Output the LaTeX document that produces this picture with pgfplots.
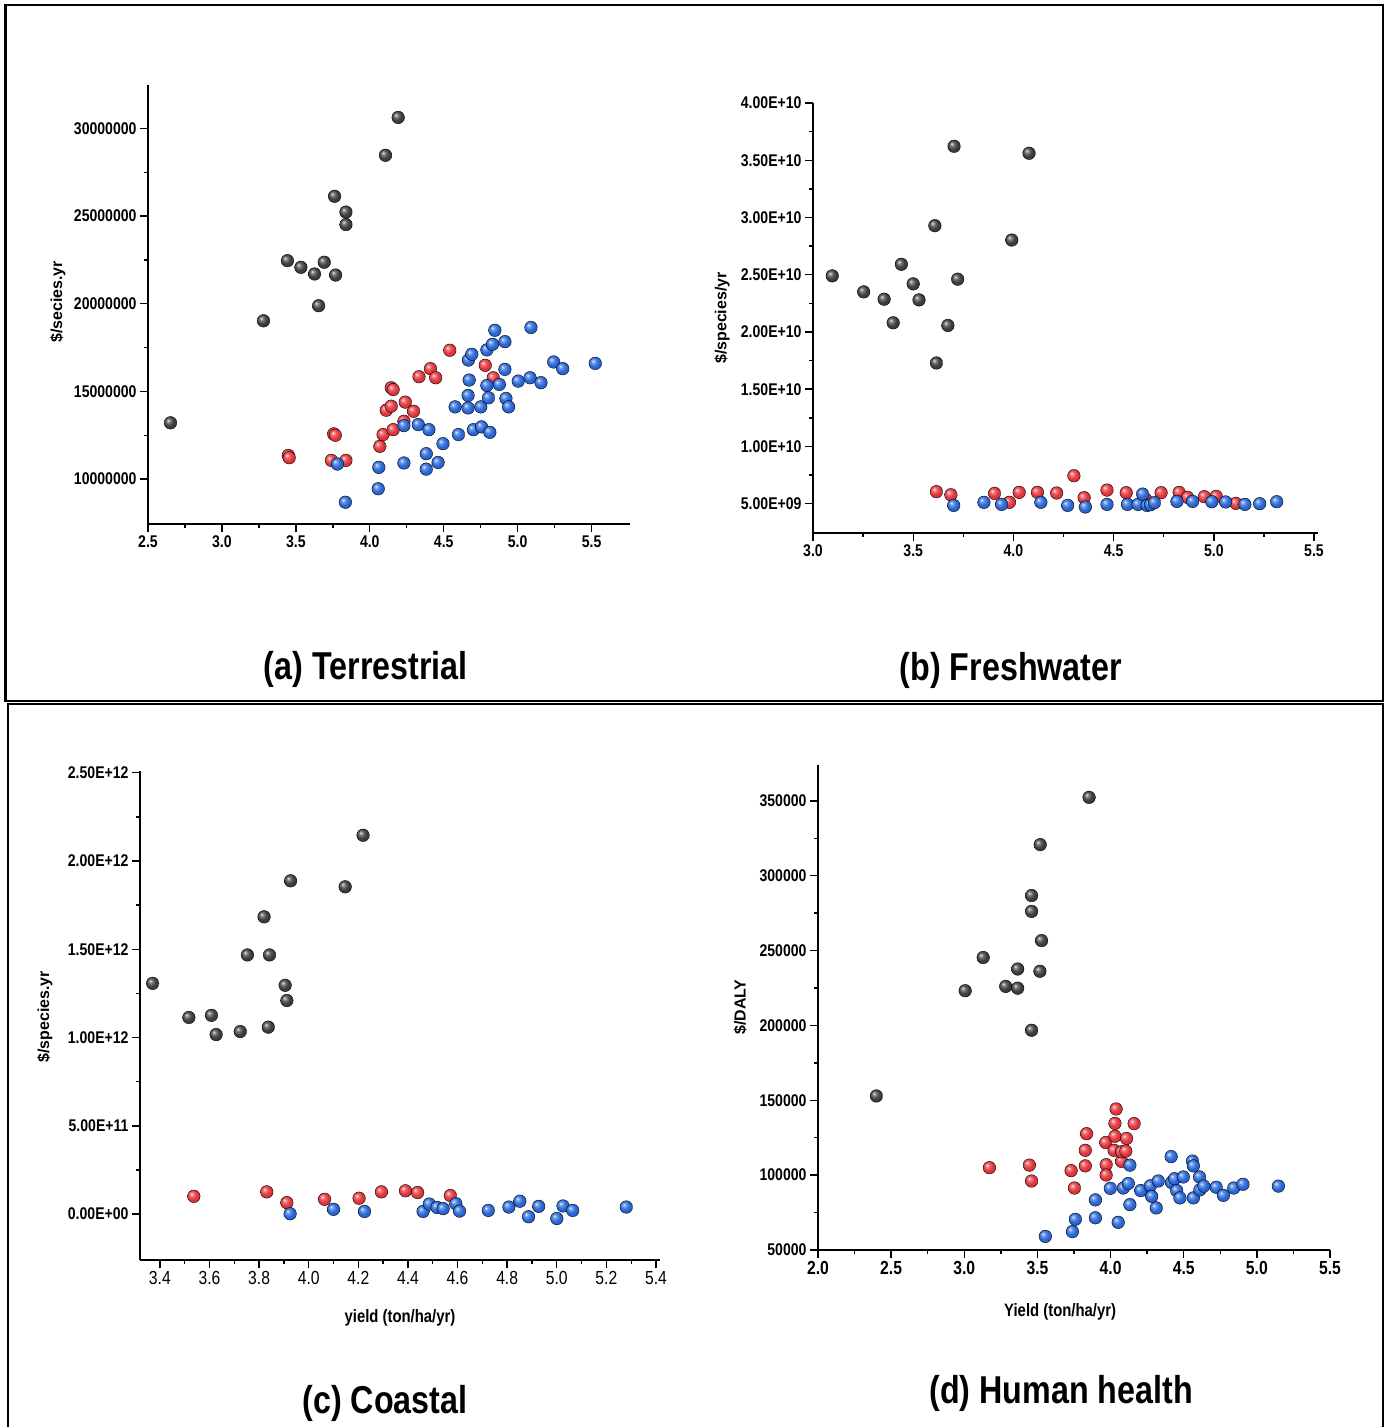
\documentclass[border=0pt]{standalone}
\usepackage{pgfplots}
\pgfplotsset{compat=1.18}
\usepackage{fontspec}
\setmainfont[FakeStretch=0.83]{Liberation Sans}
\newfontfamily\ylfont{Liberation Sans}
\definecolor{ballk}{HTML}{3E3E3E}
\definecolor{ballr}{HTML}{E4363C}
\definecolor{ballb}{HTML}{2A68D8}
\makeatletter
\pgfdeclareradialshading[tikz@ball]{ball}{\pgfqpoint{-10bp}{10bp}}{%
 color(0bp)=(tikz@ball!10!white); color(7bp)=(tikz@ball!65!white);
 color(18bp)=(tikz@ball); color(34bp)=(tikz@ball!88!black); color(50bp)=(tikz@ball!62!black)}
\makeatother
\pgfplotsset{
  panel/.style={
    scale only axis, anchor=south west, clip=false,
    axis lines=left, axis line style={-, line width=1.6bp},
    tick align=outside, tick pos=left,
    major tick length=8bp, minor tick length=4bp,
    every tick/.style={line width=1.4bp, black},
    minor tick num=1,
    ticklabel style={font=\fontsize{17}{17}\selectfont\bfseries},
    title style={anchor=center, font=\fontsize{39}{39}\selectfont\bfseries},
    ylabel style={anchor=center, font={\ylfont\bfseries\fontsize{16}{16}\selectfont}},
    xlabel style={anchor=center, font=\fontsize{18}{18}\selectfont\bfseries},
    scaled ticks=false,
  },
  kball/.style={only marks, mark=ball, mark size=6.3bp, mark options={ball color=ballk, draw=none}},
  rball/.style={only marks, mark=ball, mark size=6.3bp, mark options={ball color=ballr, draw=none}},
  bball/.style={only marks, mark=ball, mark size=6.3bp, mark options={ball color=ballb, draw=none}},
}
\begin{document}
\begin{tikzpicture}
\useasboundingbox (0,0) rectangle (1391bp,1427bp);
\draw[line width=2.7bp] (5.5bp,1422bp) rectangle (1383bp,726bp);
\draw[line width=2.7bp] (8bp,723bp) rectangle (1383bp,-20bp);

% (a) Terrestrial
\begin{axis}[panel, at={(148bp,903bp)}, width=482bp, height=439bp,
  xmin=2.5, xmax=5.76, ymin=7.44e6, ymax=32.48e6,
  xtick={2.5,3.0,3.5,4.0,4.5,5.0,5.5},
  xticklabels={2.5,3.0,3.5,4.0,4.5,5.0,5.5},
  ytick={10e6,15e6,20e6,25e6,30e6},
  yticklabels={10000000,15000000,20000000,25000000,30000000},
  ylabel={\$/secies.yr},
  ylabel style={at={(axis description cs:-0.187,0.506)}},
  title={(a) Terrestrial},
  title style={at={(axis description cs:0.452,-0.344)}}]
\addplot[kball] coordinates {
(2.652,13.21e6) (3.281,19.03e6) (3.443,22.46e6) (3.534,22.08e6) (3.627,21.70e6)
(3.692,22.37e6) (3.769,21.64e6) (3.654,19.89e6) (3.762,26.13e6) (3.839,25.23e6)
(3.839,24.52e6) (4.106,28.47e6) (4.192,30.63e6)};
\addplot[rball] coordinates {
(3.449,11.35e6) (3.455,11.22e6) (3.756,12.58e6) (3.767,12.50e6) (3.740,11.07e6)
(3.839,11.07e6) (4.068,11.87e6) (4.090,12.54e6) (4.111,13.93e6) (4.145,14.16e6)
(4.145,15.21e6) (4.158,15.11e6) (4.158,12.82e6) (4.231,13.30e6) (4.240,14.39e6)
(4.296,13.87e6) (4.333,15.84e6) (4.410,16.30e6) (4.446,15.78e6) (4.541,17.35e6)
(4.781,16.49e6) (4.835,15.78e6)};
\addplot[bball] coordinates {
(3.781,10.86e6) (3.835,8.68e6) (4.061,10.67e6) (4.057,9.45e6) (4.231,13.05e6)
(4.231,10.92e6) (4.328,13.11e6) (4.400,12.82e6) (4.382,11.45e6) (4.382,10.57e6)
(4.462,10.95e6) (4.495,12.02e6) (4.577,14.12e6) (4.600,12.54e6) (4.665,14.77e6)
(4.665,14.06e6) (4.672,15.65e6) (4.667,16.79e6) (4.690,17.12e6) (4.701,12.82e6)
(4.756,12.98e6) (4.751,14.12e6) (4.792,15.34e6) (4.803,14.64e6) (4.812,12.67e6)
(4.792,17.37e6) (4.830,17.69e6) (4.846,18.49e6) (4.876,15.40e6) (4.914,17.84e6)
(4.914,16.26e6) (4.921,14.60e6) (4.939,14.12e6) (5.004,15.59e6) (5.084,15.78e6)
(5.090,18.65e6) (5.158,15.50e6) (5.244,16.68e6) (5.305,16.30e6) (5.525,16.60e6)};
\end{axis}

% (b) Freshwater
\begin{axis}[panel, at={(813bp,894bp)}, width=505bp, height=430bp,
  xmin=3.0, xmax=5.52, ymin=2.44e9, ymax=4.0e10,
  xtick={3.0,3.5,4.0,4.5,5.0,5.5},
  xticklabels={3.0,3.5,4.0,4.5,5.0,5.5},
  ytick={5e9,10e9,15e9,20e9,25e9,30e9,35e9,40e9},
  yticklabels={5.00E+09,1.00E+10,1.50E+10,2.00E+10,2.50E+10,3.00E+10,3.50E+10,4.00E+10},
  ylabel={\$/species/yr},
  ylabel style={at={(axis description cs:-0.180,0.5)}},
  title={(b) Freshwater},
  title style={at={(axis description cs:0.392,-0.333)}}]
\addplot[kball] coordinates {
(3.096,24.90e9) (3.253,23.50e9) (3.355,22.86e9) (3.400,20.80e9) (3.441,25.91e9)
(3.500,24.20e9) (3.529,22.80e9) (3.608,29.28e9) (3.616,17.29e9) (3.673,20.57e9)
(3.704,36.22e9) (3.722,24.61e9) (3.992,28.03e9) (4.078,35.61e9)};
\addplot[rball] coordinates {
(3.616,6.05e9) (3.688,5.78e9) (3.906,5.90e9) (3.980,5.12e9) (4.029,5.99e9)
(4.120,5.99e9) (4.216,5.93e9) (4.302,7.44e9) (4.353,5.52e9) (4.467,6.19e9)
(4.563,5.96e9) (4.659,5.41e9) (4.737,5.96e9) (4.827,5.99e9) (4.869,5.55e9)
(4.953,5.61e9) (5.012,5.64e9) (5.110,5.03e9)};
\addplot[bball] coordinates {
(3.702,4.85e9) (3.853,5.12e9) (3.941,4.94e9) (4.137,5.12e9) (4.271,4.85e9)
(4.359,4.71e9) (4.467,4.94e9) (4.569,4.94e9) (4.622,4.94e9) (4.645,5.84e9)
(4.667,4.85e9) (4.684,4.91e9) (4.704,5.09e9) (4.816,5.20e9) (4.894,5.20e9)
(4.990,5.17e9) (5.059,5.15e9) (5.155,4.94e9) (5.229,5.00e9) (5.314,5.17e9)};
\end{axis}

% (c) Coastal
\begin{axis}[panel, at={(140bp,167bp)}, width=520bp, height=489bp,
  xmin=3.32, xmax=5.416, ymin=-0.26e12, ymax=2.51e12,
  xtick={3.4,3.6,3.8,4.0,4.2,4.4,4.6,4.8,5.0,5.2,5.4},
  xticklabels={3.4,3.6,3.8,4.0,4.2,4.4,4.6,4.8,5.0,5.2,5.4},
  ytick={0,0.5e12,1.0e12,1.5e12,2.0e12,2.5e12},
  yticklabels={0.00E+00,5.00E+11,1.00E+12,1.50E+12,2.00E+12,2.50E+12},
  xticklabel style={font=\fontsize{19}{19}\selectfont},
  ylabel={\$/species.yr},
  ylabel style={at={(axis description cs:-0.183,0.497)}},
  xlabel={yield (ton/ha/yr)},
  xlabel style={at={(axis description cs:0.5,-0.119)}},
  title={(c) Coastal},
  title style={at={(axis description cs:0.471,-0.305)}}]
\addplot[kball] coordinates {
(3.371,1.307e12) (3.517,1.114e12) (3.608,1.126e12) (3.627,1.017e12) (3.724,1.034e12)
(3.753,1.468e12) (3.820,1.684e12) (3.837,1.059e12) (3.842,1.468e12) (3.905,1.296e12)
(3.912,1.210e12) (3.927,1.888e12) (4.147,1.854e12) (4.219,2.146e12)};
\addplot[rball] coordinates {
(3.537,0.101e12) (3.831,0.126e12) (3.912,0.065e12) (4.064,0.084e12) (4.203,0.090e12)
(4.293,0.126e12) (4.390,0.132e12) (4.439,0.122e12) (4.571,0.105e12)};
\addplot[bball] coordinates {
(3.925,0.002e12) (4.100,0.027e12) (4.225,0.015e12) (4.461,0.015e12) (4.486,0.057e12)
(4.517,0.038e12) (4.542,0.031e12) (4.593,0.059e12) (4.608,0.017e12) (4.724,0.021e12)
(4.807,0.040e12) (4.851,0.073e12) (4.886,-0.015e12) (4.927,0.044e12) (5.000,-0.025e12)
(5.025,0.046e12) (5.064,0.021e12) (5.280,0.040e12)};
\end{axis}

% (d) Human health
\begin{axis}[panel, at={(818bp,177bp)}, width=512bp, height=485bp,
  xmin=2.0, xmax=5.5, ymin=50000, ymax=374000,
  xtick={2.0,2.5,3.0,3.5,4.0,4.5,5.0,5.5},
  xticklabels={2.0,2.5,3.0,3.5,4.0,4.5,5.0,5.5},
  ytick={50000,100000,150000,200000,250000,300000,350000},
  yticklabels={50000,100000,150000,200000,250000,300000,350000},
  xticklabel style={font=\fontsize{19}{19}\selectfont\bfseries},
  ylabel={\$/DALY},
  ylabel style={at={(axis description cs:-0.152,0.501)}},
  xlabel={Yield (ton/ha/yr)},
  xlabel style={at={(axis description cs:0.473,-0.128)}},
  title={(d) Human health},
  title style={at={(axis description cs:0.475,-0.309)}}]
\addplot[kball] coordinates {
(2.399,152900) (3.006,223200) (3.129,245400) (3.283,226100) (3.365,237700)
(3.365,224900) (3.460,286800) (3.460,276200) (3.460,196800) (3.519,320800)
(3.528,256700) (3.517,236200) (3.853,352400)};
\addplot[rball] coordinates {
(3.172,105000) (3.445,106700) (3.460,96100) (3.730,103000) (3.753,91400)
(3.827,106200) (3.827,116600) (3.836,127700) (3.967,121800) (3.970,107000)
(3.970,100100) (4.024,116600) (4.030,126000) (4.030,134600) (4.038,144200)
(4.075,109200) (4.075,115600) (4.109,124500) (4.104,116100) (4.161,134400)};
\addplot[bball] coordinates {
(3.554,59100) (3.739,62300) (3.759,70500) (3.896,71500) (3.896,83500)
(3.998,91200) (4.052,68500) (4.087,91400) (4.121,94400) (4.132,80300)
(4.132,106700) (4.206,89700) (4.272,92900) (4.281,85800) (4.312,78100)
(4.326,96100) (4.414,112400) (4.417,95100) (4.437,97600) (4.452,89700)
(4.474,84800) (4.497,98800) (4.560,109400) (4.566,106200) (4.566,84800)
(4.608,98800) (4.611,90200) (4.637,92700) (4.722,91900) (4.771,86500)
(4.842,91400) (4.905,93900) (5.147,92700)};
\end{axis}
\end{tikzpicture}
\end{document}
